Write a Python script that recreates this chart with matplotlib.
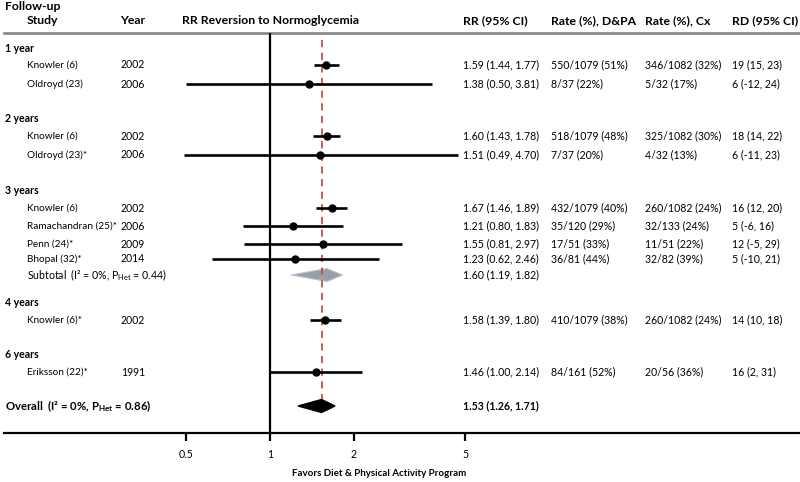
import matplotlib
matplotlib.use("Agg")
import matplotlib.pyplot as plt
from matplotlib.transforms import blended_transform_factory

plt.rcParams['font.family'] = ['Lato', 'DejaVu Sans']
plt.rcParams['mathtext.fontset'] = 'custom'
plt.rcParams['mathtext.rm'] = 'Lato'
plt.rcParams['mathtext.bf'] = 'Lato:bold'

# data
groups = ["1 year", "2 years", "3 years", "4 years", "6 years"]
study = ["Knowler (6)", "Oldroyd (23)", "Knowler (6)", "Oldroyd (23)*", "Knowler (6)",
         "Ramachandran (25)*", "Penn (24)*", "Bhopal (32)*", "Knowler (6)*", "Eriksson (22)*"]
year = ["2002", "2006", "2002", "2006", "2002", "2006", "2009", "2014", "2002", "1991"]
rr = [1.59, 1.38, 1.60, 1.51, 1.67, 1.21, 1.55, 1.23, 1.58, 1.46]
rr_lo = [1.44, 0.50, 1.43, 0.49, 1.46, 0.80, 0.81, 0.62, 1.39, 1.00]
rr_hi = [1.77, 3.81, 1.78, 4.70, 1.89, 1.83, 2.97, 2.46, 1.80, 2.14]
rate_dpa = ["550/1079 (51%)", "8/37 (22%)", "518/1079 (48%)", "7/37 (20%)", "432/1079 (40%)",
            "35/120 (29%)", "17/51 (33%)", "36/81 (44%)", "410/1079 (38%)", "84/161 (52%)"]
rate_cx = ["346/1082 (32%)", "5/32 (17%)", "325/1082 (30%)", "4/32 (13%)", "260/1082 (24%)",
           "32/133 (24%)", "11/51 (22%)", "32/82 (39%)", "260/1082 (24%)", "20/56 (36%)"]
rd = ["19 (15, 23)", "6 (-12, 24)", "18 (14, 22)", "6 (-11, 23)", "16 (12, 20)",
      "5 (-6, 16)", "12 (-5, 29)", "5 (-10, 21)", "14 (10, 18)", "16 (2, 31)"]
sub_rr, sub_lo, sub_hi = 1.60, 1.19, 1.82
all_rr, all_lo, all_hi = 1.53, 1.26, 1.71
xticks = [0.5, 1, 2, 5]

# layout (rows, in pixels from top)
row_y = [65, 84, 136, 155, 208, 226, 244, 259, 320, 372]
group_y = [48, 119, 191, 302, 354]
sub_y = 275
all_y = 406
top_line = 33
axis_line = 433

fig = plt.figure(figsize=(8, 4.82), dpi=100)
ax = fig.add_axes([0, 0, 1, 1])
ax.set_xscale('log', base=2)
ax.set_xlim(2 ** (-270 / 84), 2 ** (530 / 84))
ax.set_ylim(482, 0)
ax.axis('off')
tr = blended_transform_factory(ax.transAxes, ax.transData)

def col(px):
    return px / 800

fs = 7.6
hfs = 8.8
# header
ax.text(col(5), 7, "Follow-up", transform=tr, fontsize=hfs, fontweight='bold', va='center')
ax.text(col(27), 21, "Study", transform=tr, fontsize=hfs, fontweight='bold', va='center')
ax.text(col(120), 21, "Year", transform=tr, fontsize=hfs, fontweight='bold', va='center')
ax.text(1, 21, "RR Reversion to Normoglycemia", fontsize=hfs, fontweight='bold', va='center', ha='center')
ax.text(col(463), 21, "RR (95% CI)", transform=tr, fontsize=hfs, fontweight='bold', va='center')
ax.text(col(551), 21, "Rate (%), D&PA", transform=tr, fontsize=hfs, fontweight='bold', va='center')
ax.text(col(645), 21, "Rate (%), Cx", transform=tr, fontsize=hfs, fontweight='bold', va='center')
ax.text(col(732), 21, "RD (95% CI)", transform=tr, fontsize=hfs, fontweight='bold', va='center')

ax.axhline(top_line, xmin=col(4), xmax=1, color='#8c8c8c', lw=2)
ax.axhline(axis_line, xmin=col(4), xmax=1, color='black', lw=1.6)
ax.vlines(1, top_line, axis_line, color='black', lw=1.6)
ax.vlines(all_rr, 40, all_y - 7, color='#c0504d', lw=1.3, linestyles=(0, (4, 3)))

for g, y in zip(groups, group_y):
    ax.text(col(5), y, g, transform=tr, fontsize=fs, fontweight='bold', va='center')

for i, y in enumerate(row_y):
    ax.plot([rr_lo[i], rr_hi[i]], [y, y], color='black', lw=1.9, solid_capstyle='butt')
    ax.plot(rr[i], y, 'o', color='black', ms=5)
    ax.text(col(27), y, study[i], transform=tr, fontsize=7.2, va='center')
    ax.text(col(121), y, year[i], transform=tr, fontsize=fs, va='center')
    ax.text(col(463), y, f"{rr[i]:.2f} ({rr_lo[i]:.2f}, {rr_hi[i]:.2f})", transform=tr, fontsize=fs, va='center')
    ax.text(col(551), y, rate_dpa[i], transform=tr, fontsize=fs, va='center')
    ax.text(col(645), y, rate_cx[i], transform=tr, fontsize=fs, va='center')
    ax.text(col(732), y, rd[i], transform=tr, fontsize=fs, va='center')

# subtotal
ax.fill([sub_lo, sub_rr, sub_hi, sub_rr], [sub_y, sub_y - 6.5, sub_y, sub_y + 6.5],
        facecolor='#9a9eab', edgecolor='#c0c3cc', lw=0.8)
ax.text(col(27), sub_y, r"Subtotal  (I² = 0%, P$_{\mathregular{Het}}$ = 0.44)", transform=tr, fontsize=fs, va='center')
ax.text(col(463), sub_y, f"{sub_rr:.2f} ({sub_lo:.2f}, {sub_hi:.2f})", transform=tr, fontsize=fs, va='center')

# overall
ax.fill([all_lo, all_rr, all_hi, all_rr], [all_y, all_y - 6.5, all_y, all_y + 6.5], color='black')
ax.text(col(5), all_y, r"Overall  (I² = 0%, $\mathbf{P_{Het}}$ = 0.86)", transform=tr, fontsize=8.2,
        fontweight='bold', va='center')
ax.text(col(463), all_y, f"{all_rr:.2f} ({all_lo:.2f}, {all_hi:.2f})", transform=tr, fontsize=fs,
        fontweight='bold', va='center')

# x axis
ax.vlines(xticks, axis_line, axis_line + 8, color='black', lw=1.6)
for t in xticks:
    ax.text(t, 455, f"{t:g}", fontsize=fs, ha='center', va='center')
ax.text(2 ** ((379 - 270) / 84), 473, "Favors Diet & Physical Activity Program", fontsize=7,
        fontweight='bold', ha='center', va='center')

fig.savefig("out.png", dpi=100)
